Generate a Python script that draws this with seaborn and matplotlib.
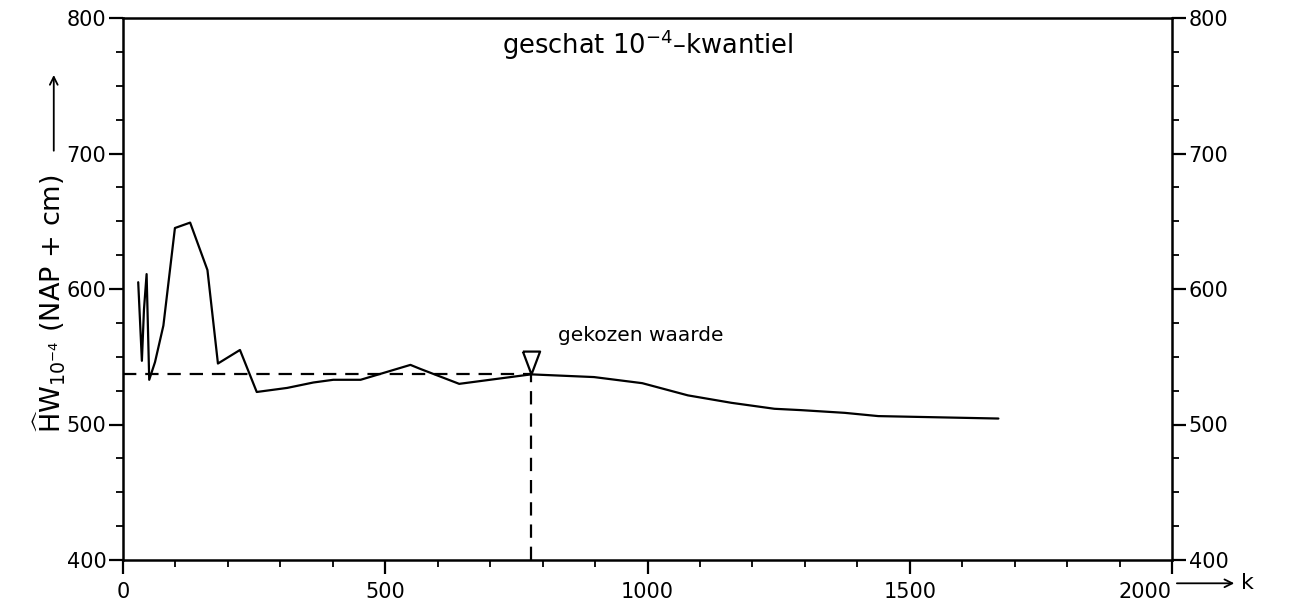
import matplotlib
matplotlib.use("Agg")
import matplotlib.pyplot as plt
import seaborn as sns
import pandas as pd
from matplotlib.ticker import MultipleLocator

# Estimated 10^-4 quantile as a function of the number of largest values k
k_values = [29, 36, 40, 45, 50, 61, 77, 99, 128, 161, 181, 223, 255, 313, 363,
            401, 453, 548, 567, 641, 778, 898, 990, 1077, 1160, 1242, 1293,
            1376, 1440, 1669]
hw_values = [605, 547, 585, 611, 533, 546, 573, 645, 649, 614, 545, 555, 524,
             527, 531, 533, 533, 544, 541, 530, 537, 535, 530.5, 521.5, 516,
             511.6, 510.6, 508.6, 506.2, 504.4]

# Chosen value
chosen_k = 778
chosen_hw = 537

x_ticks = [0, 500, 1000, 1500, 2000]
y_ticks = [400, 500, 600, 700, 800]

sns.set_theme(style="ticks")
plt.rcParams["font.family"] = ["DejaVu Sans"]
plt.rcParams["mathtext.fontset"] = "dejavusans"
plt.rcParams["text.color"] = "black"

fig = plt.figure(figsize=(13.16, 6.12), dpi=100)
ax = fig.add_axes([123 / 1316, 52 / 612, 1049 / 1316, 542 / 612])

df = pd.DataFrame({"k": k_values, "hw": hw_values})
sns.lineplot(data=df, x="k", y="hw", ax=ax, color="black", linewidth=1.6,
             estimator=None, sort=False)

dash = (0, (6, 4))
ax.plot([0, chosen_k], [chosen_hw, chosen_hw], color="black", lw=1.6,
        linestyle=dash)
ax.plot([chosen_k, chosen_k], [400, chosen_hw], color="black", lw=1.6,
        linestyle=dash)
# open downward triangle with its tip on the chosen value
tri = [(-0.45, 1.2), (0.45, 1.2), (0.0, 0.0), (-0.45, 1.2)]
ax.plot([chosen_k], [chosen_hw], marker=tri, markersize=33,
        markerfacecolor="white", markeredgecolor="black", markeredgewidth=1.6,
        linestyle="none")
ax.text(830, 566, "gekozen waarde", fontsize=14.5, ha="left", va="center",
        color="black")

ax.text(0.5, 0.95, r"geschat 10$^{-4}$–kwantiel", transform=ax.transAxes,
        fontsize=18.5, ha="center", va="center", color="black")

ax.set_xlim(0, 2000)
ax.set_ylim(400, 800)
ax.set_xticks(x_ticks)
ax.set_yticks(y_ticks)
ax.xaxis.set_minor_locator(MultipleLocator(100))
ax.yaxis.set_minor_locator(MultipleLocator(25))
ax.tick_params(axis="both", which="major", direction="out", length=10,
               width=1.6, labelsize=15, color="black", labelcolor="black")
ax.tick_params(axis="both", which="minor", direction="out", length=5,
               width=1.3, color="black")
ax.tick_params(axis="y", which="both", left=True, right=True,
               labelleft=True, labelright=True, pad=2)
ax.tick_params(axis="x", which="both", top=False, pad=6)
for s in ax.spines.values():
    s.set_visible(True)
    s.set_linewidth(1.8)
    s.set_color("black")
ax.set_xlabel("")
ax.set_ylabel("")
ax.grid(False)

fig.canvas.draw()
labels = ax.get_xticklabels()
labels[-1].set_horizontalalignment("right")

# x axis arrow and label
ax.annotate("", xy=(1.062, -0.043), xytext=(1.002, -0.043),
            xycoords="axes fraction", textcoords="axes fraction",
            arrowprops=dict(arrowstyle="->", color="black", lw=1.3,
                            mutation_scale=14))
ax.text(1.066, -0.043, "k", transform=ax.transAxes, fontsize=16,
        ha="left", va="center", color="black")

# y axis label with arrow
ax.text(-0.07, 0.235,
        r"$\widehat{\mathrm{H}}\mathrm{W}_{10^{-4}}$ (NAP + cm)",
        transform=ax.transAxes, rotation=90, fontsize=19.5,
        ha="center", va="bottom", color="black")
ax.annotate("", xy=(-0.066, 0.9), xytext=(-0.066, 0.75),
            xycoords="axes fraction", textcoords="axes fraction",
            arrowprops=dict(arrowstyle="->", color="black", lw=1.3,
                            mutation_scale=14))

fig.savefig("out.png", dpi=100, facecolor="white")
